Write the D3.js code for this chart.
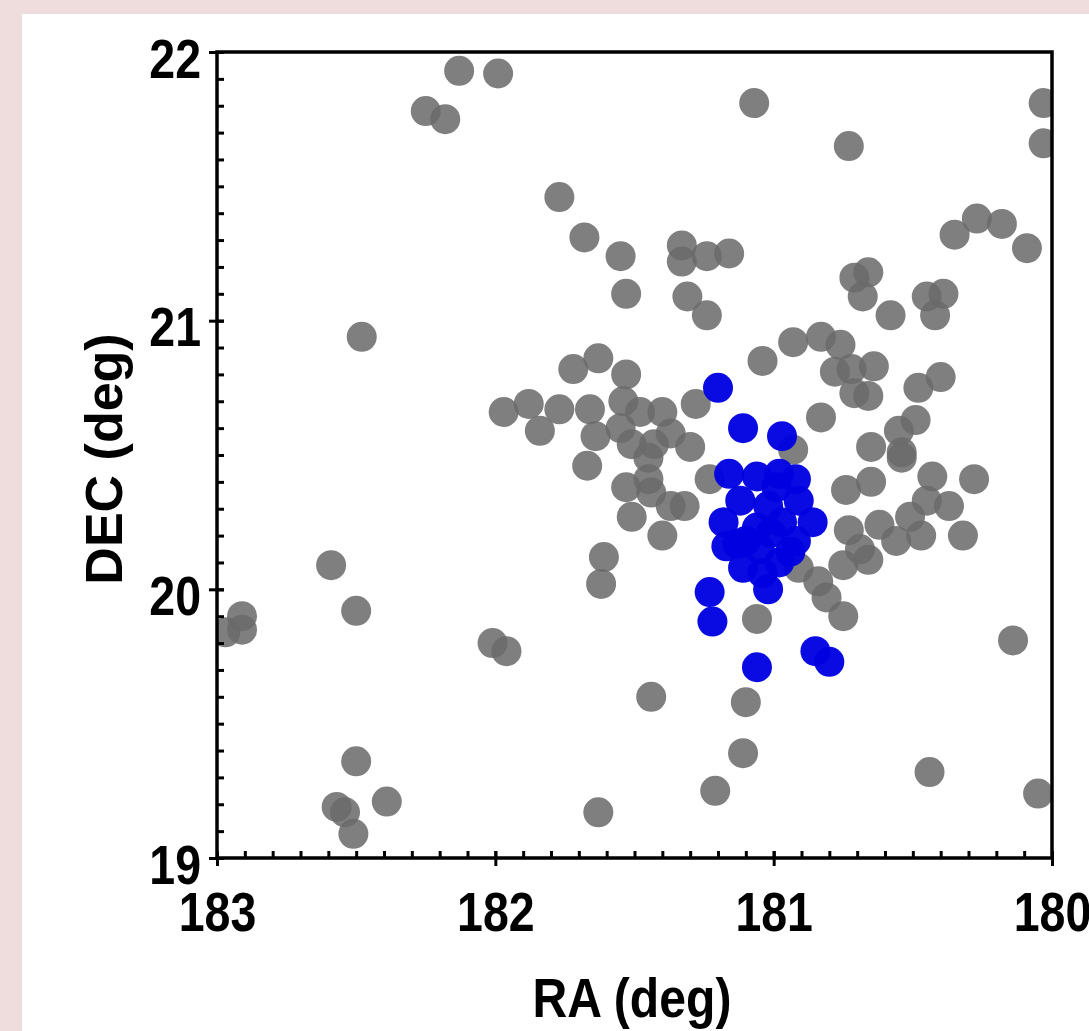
<!DOCTYPE html>
<html>
<head>
<meta charset="utf-8">
<script src="https://cdn.jsdelivr.net/npm/d3@7"></script>
<style>
  html, body { margin: 0; padding: 0; background: #efdddd; }
  svg { display: block; }
</style>
</head>
<body>
<script>

// sources (RA, DEC in degrees)
var grayRA = [182.13,181.99,182.25,182.18,181.77,181.68,181.55,181.53,182.48,181.72,
  181.63,181.53,181.97,181.88,181.77,181.84,181.66,181.54,181.48,181.40,
  181.64,181.55,181.37,181.30,181.28,181.51,181.43,181.45,181.67,181.53,
  181.45,181.44,181.32,181.37,181.51,181.40,181.61,181.62,182.59,182.50,
  182.91,182.97,182.91,182.01,181.96,181.44,182.50,182.57,182.54,182.51,
  182.39,181.63,181.10,181.11,181.21,180.44,180.05,180.14,181.06,180.75,
  180.81,180.84,180.65,180.74,180.54,180.43,180.28,180.37,180.45,180.32,
  180.47,180.51,180.56,180.62,180.73,180.66,180.75,180.69,180.65,180.54,
  180.55,180.49,180.48,180.40,180.83,181.04,180.93,180.83,180.76,180.78,
  180.72,180.64,180.71,180.66,180.93,181.23,180.91,181.33,181.33,181.24,
  181.16,181.31,181.24,180.71,180.66,180.68,180.58,180.45,180.39,180.42,
  180.27,180.35,180.18,180.09,181.07,180.73,180.03,180.03];
var grayDEC = [21.93,21.92,21.78,21.75,21.46,21.31,21.24,21.10,20.94,20.82,
  20.86,20.80,20.66,20.69,20.67,20.59,20.67,20.70,20.66,20.66,
  20.57,20.60,20.58,20.53,20.69,20.54,20.54,20.49,20.46,20.38,
  20.41,20.36,20.31,20.31,20.27,20.20,20.12,20.02,20.09,19.92,
  19.90,19.84,19.85,19.80,19.77,19.60,19.36,19.19,19.17,19.09,
  19.21,19.17,19.58,19.39,19.25,19.32,19.24,19.81,19.89,19.90,
  19.97,20.03,20.40,20.37,20.49,20.42,20.41,20.31,20.33,20.20,
  20.20,20.27,20.18,20.24,20.22,20.11,20.09,20.15,20.53,20.51,
  20.59,20.63,20.75,20.79,20.64,20.85,20.92,20.94,20.91,20.81,
  20.82,20.83,20.73,20.72,20.52,20.41,20.08,21.28,21.22,21.24,
  21.25,21.09,21.02,21.16,21.18,21.09,21.02,21.09,21.10,21.02,
  21.38,21.32,21.36,21.27,21.81,21.65,21.81,21.66];

var blueRA = [181.20,181.11,180.97,181.16,181.06,180.98,180.92,180.99,181.12,181.02,
  181.18,180.86,181.06,181.01,180.97,181.17,181.11,180.98,180.94,181.05,
  181.10,181.23,181.02,181.22,181.06,180.85,180.80,
  180.91,180.92,181.04,181.13];
var blueDEC = [20.75,20.60,20.57,20.43,20.42,20.43,20.41,20.38,20.33,20.31,
  20.25,20.25,20.23,20.21,20.25,20.16,20.08,20.10,20.14,20.15,
  20.18,19.99,20.00,19.88,19.71,19.77,19.73,
  20.33,20.18,20.06,20.17];

var xTicks = [183, 182, 181, 180];
var yTicks = [19, 20, 21, 22];

var W = 1089, H = 1031;
var plotL = 217, plotR = 1052, plotT = 52, plotB = 858;
var boldFont = '"Liberation Sans", Arial, sans-serif';
var squeeze = 0.83;   // labels in the original are a narrow bold face

var svg = d3.select('body').append('svg')
    .attr('width', W)
    .attr('height', H);

svg.append('rect')
    .attr('width', W).attr('height', H)
    .attr('fill', '#efdddd');
svg.append('rect')
    .attr('x', 22).attr('y', 14)
    .attr('width', W - 22).attr('height', H - 14)
    .attr('fill', 'white');

var x = d3.scaleLinear().domain([183, 180]).range([plotL, plotR]);
var y = d3.scaleLinear().domain([19, 22]).range([plotB, plotT]);

svg.append('clipPath').attr('id', 'plotclip')
  .append('rect')
    .attr('x', plotL).attr('y', plotT)
    .attr('width', plotR - plotL).attr('height', plotB - plotT);

var dots = svg.append('g').attr('clip-path', 'url(#plotclip)');

dots.selectAll('circle.gray')
    .data(d3.range(grayRA.length))
  .enter().append('circle')
    .attr('class', 'gray')
    .attr('cx', function(i){ return x(grayRA[i]); })
    .attr('cy', function(i){ return y(grayDEC[i]); })
    .attr('r', 15)
    .attr('fill', 'rgb(106,106,106)')
    .attr('fill-opacity', 0.86);

dots.selectAll('circle.blue')
    .data(d3.range(blueRA.length))
  .enter().append('circle')
    .attr('class', 'blue')
    .attr('cx', function(i){ return x(blueRA[i]); })
    .attr('cy', function(i){ return y(blueDEC[i]); })
    .attr('r', 15)
    .attr('fill', 'rgb(0,0,225)')
    .attr('fill-opacity', 0.96);

// minor ticks, pointing inward
var xMinor = d3.range(0, 31).map(function(k){ return 183 - k / 10; });
var yMinor = d3.range(0, 31).map(function(k){ return 19 + k / 10; });

var minorX = svg.append('g')
    .attr('transform', 'translate(0,' + plotB + ')')
    .call(d3.axisTop(x).tickValues(xMinor).tickSize(7).tickFormat(''));
var minorY = svg.append('g')
    .attr('transform', 'translate(' + plotL + ',0)')
    .call(d3.axisRight(y).tickValues(yMinor).tickSize(7).tickFormat(''));

// major ticks, outward with labels
var xAxis = svg.append('g')
    .attr('transform', 'translate(0,' + plotB + ')')
    .call(d3.axisBottom(x).tickValues(xTicks).tickSize(8).tickPadding(65)
      .tickFormat(d3.format('d')));
var yAxis = svg.append('g')
    .attr('transform', 'translate(' + plotL + ',0)')
    .call(d3.axisLeft(y).tickValues(yTicks).tickSize(8).tickPadding(8)
      .tickFormat(d3.format('d')));

[minorX, minorY, xAxis, yAxis].forEach(function(g){
  g.select('.domain').remove();
  g.selectAll('.tick line').attr('stroke', 'black').attr('stroke-width', 3);
});

// major ticks also cross into the plot
xAxis.selectAll('.tick line').attr('y1', -7);
yAxis.selectAll('.tick line').attr('x1', 7);

xAxis.selectAll('.tick text')
    .attr('font-family', boldFont)
    .attr('font-weight', 'bold')
    .attr('font-size', 56)
    .attr('fill', 'black')
    .attr('dy', 0)
    .attr('transform', 'scale(' + squeeze + ',1)');
yAxis.selectAll('.tick text')
    .attr('font-family', boldFont)
    .attr('font-weight', 'bold')
    .attr('font-size', 56)
    .attr('fill', 'black')
    .attr('x', -16 / squeeze)
    .attr('y', 25)
    .attr('dy', 0)
    .attr('transform', 'scale(' + squeeze + ',1)');

// frame
svg.append('rect')
    .attr('x', plotL).attr('y', plotT)
    .attr('width', plotR - plotL).attr('height', plotB - plotT)
    .attr('fill', 'none')
    .attr('stroke', 'black')
    .attr('stroke-width', 3.5);

svg.append('text')
    .attr('transform', 'translate(632,1017) scale(0.86,1)')
    .attr('text-anchor', 'middle')
    .attr('font-family', boldFont)
    .attr('font-weight', 'bold')
    .attr('font-size', 56)
    .text('RA (deg)');

svg.append('text')
    .attr('transform', 'translate(122,459) rotate(-90)')
    .attr('text-anchor', 'middle')
    .attr('font-family', boldFont)
    .attr('font-weight', 'bold')
    .attr('font-size', 52)
    .text('DEC (deg)');

</script>
</body>
</html>
